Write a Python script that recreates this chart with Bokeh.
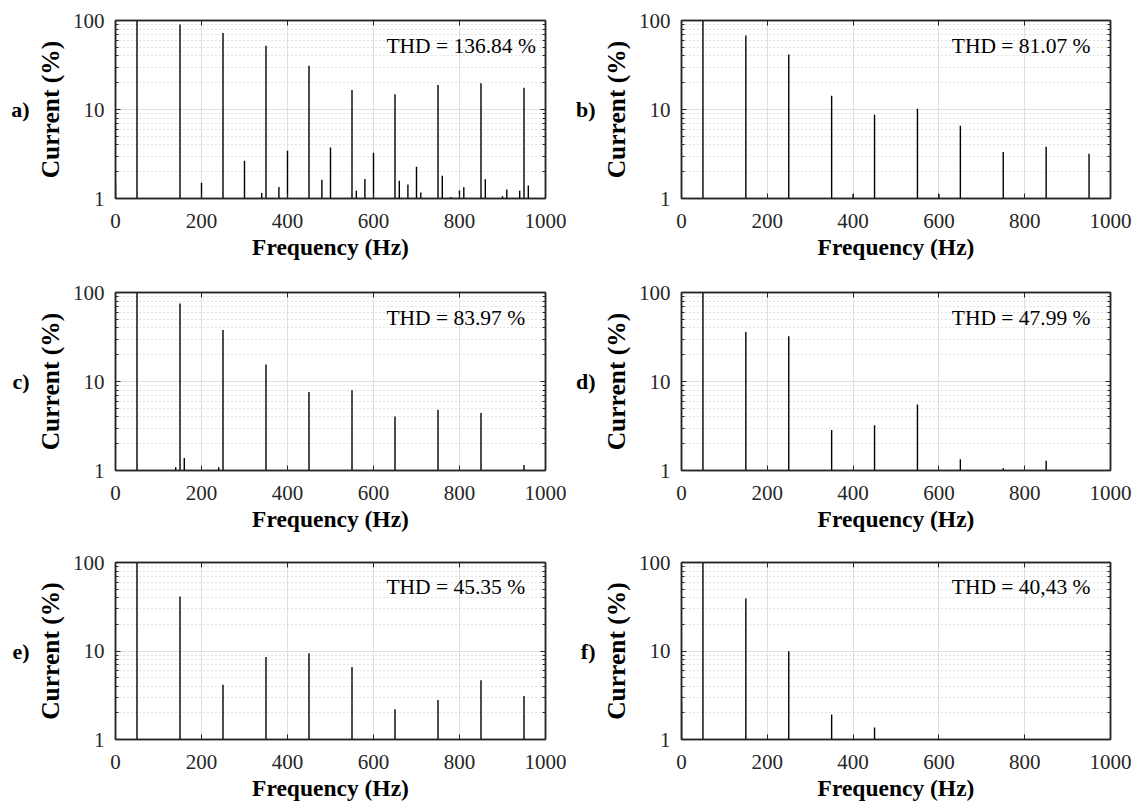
from bokeh.plotting import figure
from bokeh.models import (Range1d, FixedTicker, LinearAxis, LogAxis, Label,
                          CustomJSTickFormatter, ColumnDataSource)
from bokeh.layouts import column, row
from bokeh.embed import file_html
from bokeh.resources import INLINE

FONT = "Liberation Serif"
AX = "#262626"

# ---------------- data ----------------
x_ticks = [0, 200, 400, 600, 800, 1000]
y_ticks = [1, 10, 100]
y_minor = [2, 3, 4, 5, 6, 7, 8, 9, 20, 30, 40, 50, 60, 70, 80, 90]

freq_a = [0, 50, 150, 200, 250, 300, 340, 350, 380, 400, 450, 480, 500, 550,
          560, 580, 600, 650, 660, 680, 700, 710, 750, 760, 780, 800, 810,
          850, 860, 900, 910, 940, 950, 960]
amp_a = [1.5, 100, 90, 1.5, 72.6, 2.65, 1.15, 52, 1.35, 3.45, 31, 1.62, 3.75,
         16.6, 1.22, 1.66, 3.27, 14.8, 1.58, 1.44, 2.27, 1.17, 18.9, 1.8, 1.04,
         1.23, 1.34, 19.7, 1.65, 1.06, 1.26, 1.22, 17.6, 1.4]

freq_b = [50, 150, 250, 350, 400, 450, 550, 600, 650, 750, 850, 950]
amp_b = [100, 67.8, 41.4, 14.3, 1.12, 8.75, 10.2, 1.12, 6.58, 3.33, 3.82, 3.19]

freq_c = [50, 140, 150, 160, 240, 250, 350, 450, 550, 650, 750, 850, 950]
amp_c = [100, 1.09, 75, 1.38, 1.09, 37.8, 15.5, 7.64, 7.98, 4.05, 4.82, 4.42, 1.15]

freq_d = [50, 150, 250, 350, 450, 550, 650, 750, 850]
amp_d = [100, 35.9, 32.3, 2.86, 3.23, 5.53, 1.34, 1.06, 1.29]

freq_e = [50, 150, 250, 350, 450, 550, 650, 750, 850, 950]
amp_e = [100, 41.4, 4.16, 8.53, 9.46, 6.58, 2.19, 2.80, 4.66, 3.10]

freq_f = [0, 50, 150, 250, 350, 450]
amp_f = [2.7, 100, 39.2, 9.96, 1.92, 1.37]

panel_letters = ["a)", "b)", "c)", "d)", "e)", "f)"]
thd_labels = ["THD = 136.84 %", "THD = 81.07 %", "THD = 83.97 %",
              "THD = 47.99 %", "THD = 45.35 %", "THD = 40,43 %"]
x_label = "Frequency (Hz)"
y_label = "Current (%)"

# ---------------- layout geometry ----------------
FRAME_H = [178, 178, 177]
BORDER_TOP = 20
BORDER_BOTTOM = [74, 72, 67]
BORDER_LEFT = 115
FRAME_W = [430, 429]
BORDER_RIGHT = [21, 26]


def style_axis(ax):
    ax.axis_line_color = AX
    ax.axis_line_width = 1.5
    ax.major_tick_line_color = AX
    ax.minor_tick_line_color = AX
    ax.major_tick_in = 5
    ax.major_tick_out = 0
    ax.minor_tick_in = 3
    ax.minor_tick_out = 0


def make_panel(idx, freqs, amps):
    r, c = divmod(idx, 2)
    w = BORDER_LEFT + FRAME_W[c] + BORDER_RIGHT[c]
    h = BORDER_TOP + FRAME_H[r] + BORDER_BOTTOM[r]
    p = figure(width=w, height=h, y_axis_type="log",
               x_range=Range1d(0, 1000), y_range=Range1d(1, 100),
               output_backend="svg", toolbar_location=None,
               min_border_left=BORDER_LEFT, min_border_right=BORDER_RIGHT[c],
               min_border_top=BORDER_TOP, min_border_bottom=BORDER_BOTTOM[r])
    p.background_fill_color = "white"
    p.border_fill_color = "white"
    p.outline_line_color = AX
    p.outline_line_width = 1.5

    xt = FixedTicker(ticks=x_ticks)
    yt = FixedTicker(ticks=y_ticks, minor_ticks=y_minor)

    xa = p.xaxis[0]
    xa.ticker = xt
    xa.axis_label = x_label
    ya = p.yaxis[0]
    ya.ticker = yt
    ya.axis_label = y_label
    ya.major_label_overrides = {1: "1", 10: "10", 100: "100"}

    for ax in (xa, ya):
        style_axis(ax)
        ax.major_label_text_font = FONT
        ax.major_label_text_font_size = "21px"
        ax.major_label_text_color = AX
        ax.axis_label_text_font = FONT
        ax.axis_label_text_font_style = "bold"
        ax.axis_label_text_color = "black"
    xa.axis_label_text_font_size = "23.5px"
    ya.axis_label_text_font_size = "25.5px"
    xa.major_label_standoff = 15
    xa.axis_label_standoff = 3
    ya.major_label_standoff = 11
    ya.axis_label_standoff = 5

    # panel letter, drawn as the single label of an extra outer left axis
    lab_ax = LogAxis(ticker=FixedTicker(ticks=[10]),
                     major_label_overrides={10: panel_letters[idx]})
    lab_ax.axis_line_color = None
    lab_ax.major_tick_line_color = None
    lab_ax.minor_tick_line_color = None
    lab_ax.major_label_standoff = -3
    lab_ax.major_label_text_font = FONT
    lab_ax.major_label_text_font_style = "bold"
    lab_ax.major_label_text_font_size = "22px"
    lab_ax.major_label_text_color = "black"
    p.add_layout(lab_ax, "left")

    blank = CustomJSTickFormatter(code="return ''")
    top = LinearAxis(ticker=xt, formatter=blank)
    right = LogAxis(ticker=yt, formatter=blank)
    for ax in (top, right):
        style_axis(ax)
        ax.major_label_standoff = 0
        ax.major_label_text_font_size = "1px"
    p.add_layout(top, "above")
    p.add_layout(right, "right")

    p.xgrid.ticker = xt
    p.ygrid.ticker = yt
    p.xgrid.grid_line_color = "#e0e0e0"
    p.ygrid.grid_line_color = "#e0e0e0"
    p.ygrid.minor_grid_line_color = "#c4c4c4"
    p.ygrid.minor_grid_line_dash = "1 3"
    p.ygrid.minor_grid_line_width = 1

    src = ColumnDataSource(dict(x=freqs, y0=[1] * len(freqs), y1=amps))
    p.segment(x0="x", y0="y0", x1="x", y1="y1", source=src,
              line_color="black", line_width=1.4)

    p.add_layout(Label(x=630, y=52.2, text=thd_labels[idx], text_font=FONT,
                       text_font_size="21.5px", text_color="black",
                       text_align="left", text_baseline="alphabetic"))
    return p


data = [(freq_a, amp_a), (freq_b, amp_b), (freq_c, amp_c),
        (freq_d, amp_d), (freq_e, amp_e), (freq_f, amp_f)]
panels = [make_panel(i, f, a) for i, (f, a) in enumerate(data)]

layout = column(row(panels[0], panels[1]), row(panels[2], panels[3]),
                row(panels[4], panels[5]))

open("out.html", "w").write(file_html(layout, INLINE))
